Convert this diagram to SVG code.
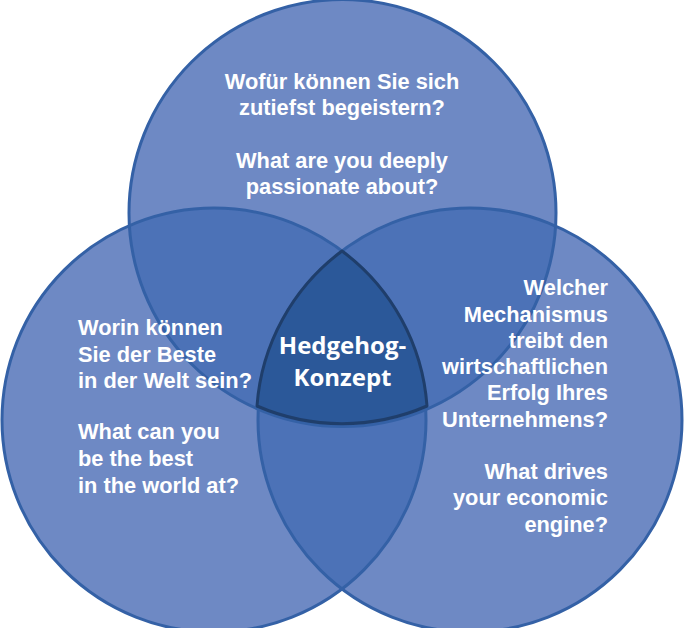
<svg xmlns="http://www.w3.org/2000/svg" width="685" height="628" viewBox="0 0 685 628">
<defs>
<clipPath id="clipT"><circle cx="342.5" cy="213" r="213.5"/></clipPath>
<clipPath id="clipL"><circle cx="214" cy="420" r="212"/></clipPath>
<clipPath id="clipR"><circle cx="470" cy="420" r="212"/></clipPath>
<style>
.base{fill:#6E89C4;stroke:none}
.dbl{fill:#4C72B7;stroke:none}
.ring{fill:none;stroke:#3461A6;stroke-width:3}
.core{fill:#2B5899;stroke:#1F3E6B;stroke-width:3;stroke-linejoin:round}
.t{font-family:"Liberation Sans",Arial,sans-serif;font-weight:bold;font-size:21.8px;fill:#FFFFFF}
.h{font-family:"Open Sans","Liberation Sans",sans-serif;font-weight:bold;font-size:24px;fill:#FFFFFF;text-anchor:middle}
</style>
</defs>
<rect width="685" height="628" fill="#FFFFFF"/>
<g id="fills">
<circle class="base" cx="342.5" cy="213" r="213.5"/>
<circle class="base" cx="214" cy="420" r="212"/>
<circle class="base" cx="470" cy="420" r="212"/>
<circle class="dbl" cx="214" cy="420" r="212" clip-path="url(#clipT)"/>
<circle class="dbl" cx="470" cy="420" r="212" clip-path="url(#clipT)"/>
<circle class="dbl" cx="470" cy="420" r="212" clip-path="url(#clipL)"/>
</g>
<g id="node-top">
<circle class="ring" cx="342.5" cy="213" r="213.5"/>
<text class="t" text-anchor="middle"><tspan x="342" y="89">Wofür können Sie sich</tspan><tspan x="342" y="115">zutiefst begeistern?</tspan><tspan x="342" y="168">What are you deeply</tspan><tspan x="342" y="194">passionate about?</tspan></text>
</g>
<g id="node-left">
<circle class="ring" cx="214" cy="420" r="212"/>
<text class="t"><tspan x="78" y="335">Worin können</tspan><tspan x="78" y="361.5">Sie der Beste</tspan><tspan x="78" y="388">in der Welt sein?</tspan><tspan x="78" y="439">What can you</tspan><tspan x="78" y="466">be the best</tspan><tspan x="78" y="493">in the world at?</tspan></text>
</g>
<g id="node-right">
<circle class="ring" cx="470" cy="420" r="212"/>
<text class="t" text-anchor="end"><tspan x="608" y="295">Welcher</tspan><tspan x="608" y="321.5">Mechanismus</tspan><tspan x="608" y="348">treibt den</tspan><tspan x="608" y="374">wirtschaftlichen</tspan><tspan x="608" y="400">Erfolg Ihres</tspan><tspan x="608" y="427">Unternehmens?</tspan><tspan x="608" y="479">What drives</tspan><tspan x="608" y="505">your economic</tspan><tspan x="608" y="532">engine?</tspan></text>
</g>
<g id="node-hedgehog">
<path class="core" d="M342 251 A212 212 0 0 1 427 406 A213.5 213.5 0 0 1 257 406 A212 212 0 0 1 342 251 Z"/>
<text class="h"><tspan x="342.5" y="354">Hedgehog-</tspan><tspan x="342.5" y="386">Konzept</tspan></text>
</g>
<g id="connectors"/>
</svg>
